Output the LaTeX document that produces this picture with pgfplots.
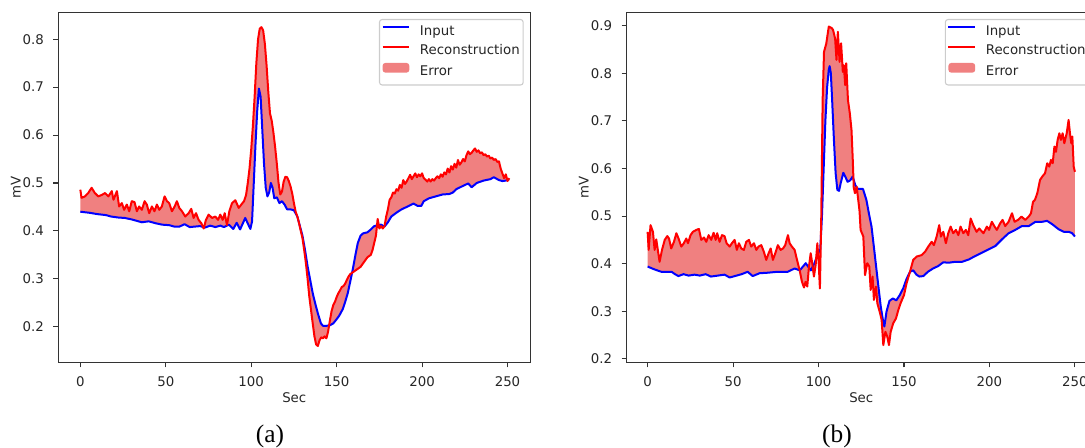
\documentclass[border=0pt]{standalone}
\usepackage{pgfplots}
\pgfplotsset{compat=1.18}
\usepackage{pgfplotstable}
\usepgfplotslibrary{fillbetween}
\usepackage{fontspec}
\setmainfont{DejaVu Sans}
\newfontfamily\capfont{Liberation Serif}
\definecolor{lcoral}{RGB}{240,128,128}
\definecolor{mplblue}{RGB}{0,0,255}
\definecolor{mplred}{RGB}{255,0,0}

\pgfplotstableread{
x y
0 0.440
5 0.438
10 0.435
15 0.433
18 0.430
22 0.428
26 0.427
30 0.424
33 0.421
36 0.418
40 0.420
44 0.416
48 0.413
52 0.412
55 0.409
58 0.409
61 0.414
64 0.408
67 0.409
70 0.410
73 0.407
76 0.411
79 0.408
82 0.411
84 0.408
87 0.413
89.5 0.404
91.5 0.417
93.5 0.403
96.5 0.427
99.5 0.404
100.5 0.42
101.5 0.50
102.5 0.58
103.5 0.65
104.5 0.697
105.5 0.68
106.5 0.61
107.5 0.54
108.5 0.49
109.5 0.472
110.5 0.48
111.5 0.50
112.5 0.49
113.5 0.468
115 0.47
116.5 0.458
118 0.462
119.5 0.455
121 0.445
123 0.445
125 0.443
127 0.43
128.5 0.41
130 0.39
131.5 0.36
133 0.326
134.5 0.298
136 0.27
137.5 0.248
139 0.228
140.8 0.207
142 0.202
144 0.202
146 0.203
148 0.207
149.6 0.214
151.5 0.223
153.6 0.237
155 0.252
156.5 0.27
158 0.295
159.4 0.319
161 0.35
162.4 0.375
164 0.39
165.5 0.395
168 0.397
170 0.403
172 0.41
174 0.412
176 0.413
178 0.409
180 0.418
182 0.43
185 0.438
188 0.445
191 0.45
195 0.457
197.5 0.452
199.5 0.452
201 0.462
204 0.468
208 0.472
212 0.476
216 0.477
218 0.48
220 0.487
224 0.494
227 0.499
229 0.491
232 0.5
236 0.505
240 0.508
242 0.512
245 0.506
247 0.504
249 0.505
251 0.508
}\inA

\pgfplotstableread{
x y
0 0.486
0.7 0.469
2.7 0.472
4.6 0.479
6.6 0.490
8.5 0.479
10.5 0.472
12.5 0.475
14.5 0.479
16.4 0.472
18.4 0.483
19.4 0.465
21.4 0.483
22.7 0.451
24.3 0.458
25.6 0.444
27.2 0.455
28.6 0.441
30.1 0.462
31.7 0.46
33.1 0.441
34.4 0.451
36 0.444
37.6 0.462
38.9 0.455
40.3 0.437
41.9 0.451
43.4 0.441
44.8 0.455
46.2 0.444
47.7 0.451
49.3 0.472
50.7 0.462
52 0.458
53.6 0.441
55.2 0.451
56.5 0.462
57.9 0.448
59.5 0.441
61.4 0.43
63.4 0.437
64.9 0.446
66.3 0.427
67.7 0.437
69.2 0.423
70.8 0.416
72.2 0.405
73.5 0.423
75.1 0.434
77.1 0.427
79 0.43
80.6 0.423
81.9 0.434
83.3 0.423
84.5 0.437
85.8 0.412
87.2 0.441
88.8 0.458
90.7 0.464
92.7 0.448
94.2 0.455
95.8 0.462
97 0.475
98 0.50
99 0.53
100 0.57
101 0.62
102 0.68
103 0.75
104 0.80
105 0.822
106 0.825
107 0.818
108 0.79
109 0.745
110 0.69
111 0.645
112 0.63
113 0.605
114 0.575
115 0.54
116 0.50
117 0.476
118 0.482
119 0.503
120 0.513
121 0.512
122 0.504
123 0.493
124 0.478
125 0.458
126 0.44
127 0.43
128 0.416
129 0.40
130 0.385
131 0.36
132 0.333
133 0.30
134 0.263
135 0.235
136 0.207
137 0.18
138 0.163
139 0.16
140 0.172
141 0.178
142 0.176
143 0.18
144 0.176
145 0.19
146 0.212
147 0.232
148 0.245
149 0.252
150 0.262
151 0.27
152 0.276
153 0.283
154 0.285
155 0.29
156 0.298
157 0.305
158 0.31
160 0.315
162 0.32
164 0.325
165 0.33
166 0.335
168 0.345
170 0.35
171 0.36
172 0.375
173 0.39
174 0.425
175 0.405
176 0.41
177 0.405
178 0.41
179 0.43
180 0.445
181 0.465
182 0.47
183 0.48
184 0.478
185 0.487
186 0.484
187 0.496
188 0.49
189 0.506
190 0.498
191 0.503
192 0.51
193 0.517
194 0.508
195 0.514
196 0.52
197 0.512
198 0.518
199 0.514
200 0.52
201 0.51
202 0.507
203 0.503
204 0.508
205 0.503
206 0.508
207 0.505
208 0.51
209 0.514
210 0.51
211 0.518
212 0.513
213 0.522
214 0.518
215 0.53
216 0.522
217 0.535
218 0.528
219 0.54
220 0.532
221 0.548
222 0.538
223 0.543
224 0.55
225 0.545
226 0.558
227 0.566
228 0.56
229 0.563
230 0.568
231 0.572
232 0.565
233 0.568
234 0.562
235 0.564
236 0.558
237 0.56
238 0.555
239 0.557
240 0.551
241 0.553
242 0.548
243 0.55
244 0.544
245 0.545
246 0.53
247 0.52
248 0.51
249 0.518
250 0.504
251 0.51
}\recA

\pgfplotstableread{
x y
0 0.394
4 0.388
8 0.383
14 0.383
16 0.378
18 0.374
21 0.378
24 0.375
27.5 0.377
30.5 0.375
34 0.378
37 0.373
41 0.375
45 0.377
48 0.371
51 0.374
55 0.378
58.5 0.383
61.5 0.374
65.5 0.38
70 0.381
76 0.383
82 0.383
86 0.39
89 0.386
92.5 0.401
95.5 0.386
97.5 0.40
99.5 0.42
101 0.43
102 0.5
103 0.6
104 0.7
105 0.77
106 0.808
106.5 0.815
107.2 0.80
108 0.74
109 0.66
110 0.59
111 0.555
112 0.553
113 0.57
114.5 0.591
116 0.58
117 0.572
118.5 0.575
120 0.583
121.5 0.565
123 0.557
126 0.557
128 0.534
129.5 0.505
131 0.478
132.8 0.422
134.8 0.359
136.4 0.31
137.5 0.285
138.5 0.268
139.8 0.30
141.5 0.322
143.5 0.327
145.5 0.323
147.5 0.334
149.5 0.348
151.5 0.368
153.5 0.383
155.4 0.386
157.3 0.377
159 0.373
161.3 0.374
164 0.383
167 0.39
170 0.395
173 0.403
176 0.402
180 0.404
184 0.404
188 0.409
191.6 0.416
195.5 0.423
199.4 0.43
203.4 0.437
207.3 0.451
211.2 0.464
215.1 0.471
219 0.479
223 0.479
226.9 0.488
230.8 0.488
233.7 0.49
236.7 0.483
240.6 0.472
243.5 0.467
246.5 0.467
248.4 0.464
250 0.457
}\inB

\pgfplotstableread{
x y
0 0.467
0.6 0.429
1.7 0.481
3.1 0.467
4.1 0.429
5.05 0.451
7 0.404
8.4 0.429
10 0.45
11.5 0.458
12.5 0.453
13.8 0.432
15.4 0.446
16.8 0.464
18.1 0.453
19.7 0.436
21.2 0.443
22.6 0.453
23.6 0.443
25.1 0.46
26.5 0.467
28.5 0.471
30 0.473
31.4 0.45
33 0.455
34.3 0.446
35.7 0.46
37.2 0.45
38.6 0.465
39.8 0.45
40.7 0.464
42.1 0.446
43.5 0.46
45 0.458
46.2 0.443
48 0.436
49.3 0.443
50.9 0.45
52.2 0.429
53.4 0.443
54.8 0.432
56.3 0.429
57.7 0.446
59.3 0.45
60.6 0.436
62.2 0.443
63.6 0.429
64.9 0.436
66.5 0.439
68 0.425
69.4 0.408
70.8 0.422
72 0.432
73.3 0.408
74.7 0.422
76.2 0.439
77.8 0.429
79.2 0.432
80.5 0.439
82.1 0.46
83.1 0.443
84.4 0.436
86 0.429
87.4 0.408
88.9 0.387
90.3 0.362
91.5 0.35
92.4 0.362
93.4 0.352
94.4 0.394
95.4 0.422
96.3 0.401
97.3 0.373
98.3 0.397
99.3 0.443
100 0.408
100.8 0.348
101.6 0.50
102.4 0.744
103.2 0.845
104.5 0.862
106 0.898
107.7 0.895
108.5 0.891
109.7 0.873
110.5 0.828
111.3 0.887
112.3 0.824
113.2 0.863
114.2 0.803
114.8 0.817
115.6 0.775
116.2 0.821
117.2 0.744
118.3 0.716
119.3 0.68
120 0.62
120.6 0.56
121.3 0.548
122.3 0.562
123 0.541
124 0.51
124.6 0.471
126.2 0.457
127.2 0.376
128.5 0.401
129.7 0.394
130.5 0.345
131.6 0.373
132.4 0.324
133.6 0.352
134.4 0.317
136 0.296
136.9 0.282
137.9 0.229
139.1 0.257
140.2 0.247
141.2 0.229
142.2 0.257
143.7 0.275
145.3 0.285
146.7 0.303
148 0.317
150 0.334
151.5 0.359
153.5 0.383
155.4 0.408
157.4 0.415
160.3 0.418
162.3 0.425
164.2 0.436
166.2 0.446
167.5 0.439
169.1 0.457
170.6 0.481
171.6 0.457
173 0.467
174.5 0.443
175.9 0.464
177.3 0.478
178.8 0.464
180.4 0.471
181.8 0.46
183.1 0.478
184.7 0.464
186.2 0.471
187.6 0.46
189 0.495
190.5 0.481
192.5 0.467
194 0.474
196.5 0.464
198.5 0.478
199.8 0.471
201.4 0.488
203 0.478
204.3 0.471
206.3 0.485
207.7 0.492
209.2 0.479
211.2 0.488
213.2 0.506
214.7 0.488
216.7 0.492
218.7 0.499
221 0.492
223 0.499
224.3 0.506
225.5 0.53
226.6 0.534
228 0.548
229.6 0.576
230.9 0.583
232.5 0.59
233.8 0.611
235 0.604
236 0.618
237 0.611
238 0.646
238.9 0.635
239.9 0.66
240.9 0.674
241.8 0.66
242.8 0.674
243.8 0.653
245.2 0.674
246.3 0.702
247.1 0.674
247.9 0.653
248.5 0.667
249.3 0.604
250 0.593
}\recB

\pgfplotsset{
  ecg/.style={
    anchor=south west,
    scale only axis,
    height=262.8pt,
    set layers,
    axis line style={black!80, line width=0.8pt},
    tick align=outside,
    tick pos=left,
    major tick length=3.5pt,
    tick style={black!80, line width=0.8pt},
    xtick={0,50,100,150,200,250},
    ticklabel style={font=\fontsize{10}{12}\selectfont, text=black!85},
    xticklabel style={inner sep=0pt, anchor=north, yshift=-7pt},
    yticklabel style={inner sep=0pt, anchor=east, xshift=-7pt},
    /pgf/number format/assume math mode=true,
    yticklabel={\pgfmathprintnumber[fixed, fixed zerofill, precision=1]{\tick}},
    xticklabel={\pgfmathprintnumber[fixed, precision=0]{\tick}},
    legend cell align=left,
    legend style={
      at={(1,1)}, anchor=north east, xshift=-5pt, yshift=-5pt,
      draw=black!20, line width=0.8pt, rounded corners=2pt, fill=white,
      inner xsep=1.6pt, inner ysep=3.4pt,
      font=\fontsize{10}{12}\selectfont, text=black!85,
      nodes={inner sep=1pt, text height=7.5pt, text depth=2.5pt},
      row sep=2.6pt,
      /tikz/every odd column/.append style={column sep=6.25pt},
    },
    legend image code/.code={\draw[##1] (0pt,3.5pt) -- (20pt,3.5pt);},
  },
  inline/.style={line width=1.5pt, color=mplblue, line join=round},
  recline/.style={line width=1.5pt, color=mplred, line join=round},
  errfill/.style={fill=lcoral, draw=none,
    legend image code/.code={\fill[lcoral] (0pt,-0.1pt) rectangle (20pt,7.1pt);}},
}

\begin{document}
\begin{tikzpicture}[trim left=0pt, trim right=813.75pt]
\path (0,0) rectangle (813.75pt,335.25pt);

\begin{axis}[ecg, name=A, at={(43.6pt,63.2pt)}, width=354.2pt,
  xmin=-13.0, xmax=263.4, ymin=0.125, ymax=0.856,
  ytick={0.2,0.3,0.4,0.5,0.6,0.7,0.8}]
\addplot[inline, name path=ia] table[x=x,y=y] {\inA};
\addlegendentry{Input}
\addplot[recline, name path=ra] table[x=x,y=y] {\recA};
\addlegendentry{Reconstruction}
\addplot[errfill] fill between[of=ia and ra];
\addlegendentry{Error}
\end{axis}

\begin{axis}[ecg, name=B, at={(469.7pt,63.2pt)}, width=352.5pt,
  xmin=-12.5, xmax=262.5, ymin=0.192, ymax=0.928,
  ytick={0.2,0.3,0.4,0.5,0.6,0.7,0.8,0.9}]
\addplot[inline, name path=ib] table[x=x,y=y] {\inB};
\addlegendentry{Input}
\addplot[recline, name path=rb] table[x=x,y=y] {\recB};
\addlegendentry{Reconstruction}
\addplot[errfill] fill between[of=ib and rb];
\addlegendentry{Error}
\end{axis}

\node[font=\fontsize{10}{12}\selectfont, text=black!85, anchor=north, inner sep=0pt]
  at ([yshift=-22pt]A.south) {Sec};
\node[font=\fontsize{10}{12}\selectfont, text=black!85, anchor=south, inner sep=0pt, rotate=90]
  at ([xshift=-28pt]A.west) {mV};
\node[font=\fontsize{10}{12}\selectfont, text=black!85, anchor=north, inner sep=0pt]
  at ([yshift=-22pt]B.south) {Sec};
\node[font=\fontsize{10}{12}\selectfont, text=black!85, anchor=south, inner sep=0pt, rotate=90]
  at ([xshift=-28pt]B.west) {mV};

\node[font=\capfont\fontsize{19}{22}\selectfont, anchor=base, inner sep=0pt] at (202.5pt,3.5pt) {(a)};
\node[font=\capfont\fontsize{19}{22}\selectfont, anchor=base, inner sep=0pt] at (627.75pt,3.5pt) {(b)};
\end{tikzpicture}
\end{document}
